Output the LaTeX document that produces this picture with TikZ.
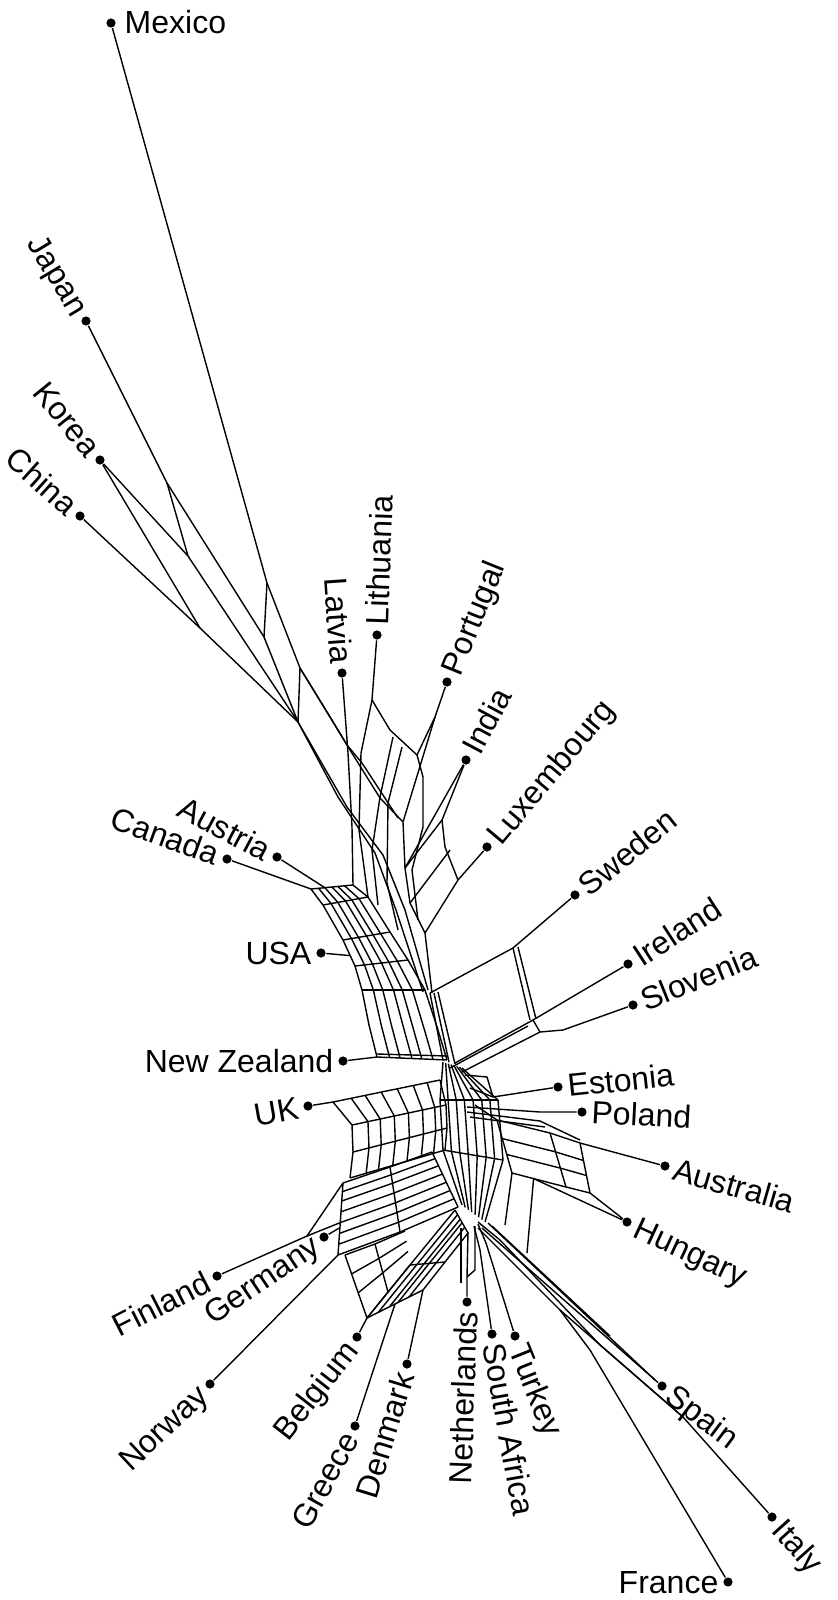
\documentclass[tikz,border=0pt]{standalone}
\usepackage{fontspec}
\setmainfont{Liberation Sans}
\usetikzlibrary{calc}
\newcommand\meshband[3]{%
  \foreach \qq in {#3}{\draw ($(#1L0)!\qq!(#1R0)$) \foreach \ww in {1,...,#2}{ -- ($(#1L\ww)!\qq!(#1R\ww)$)};}}
\newcommand\rungs[2]{\foreach \ww in {#2}{\draw (#1L\ww) -- (#1R\ww);}}
\begin{document}
\begin{tikzpicture}[x=0.5pt,y=-0.5pt,line width=0.7pt,line join=round,
  leaf/.style={circle,fill=black,inner sep=0pt,minimum size=4.6pt},
  lbl/.style={inner xsep=4.5pt,inner ysep=0pt,text height=11pt,text depth=0pt,font=\fontsize{16}{18}\selectfont}]
\useasboundingbox (0,0) rectangle (837,1600);

% ---------------- leaves
\node[leaf] (mex) at (111,23) {};
\node[leaf] (jap) at (86,321) {};
\node[leaf] (kor) at (100,460) {};
\node[leaf] (chi) at (80,516) {};
\node[leaf] (lat) at (342,673) {};
\node[leaf] (lit) at (377,635) {};
\node[leaf] (por) at (447,682) {};
\node[leaf] (ind) at (466,760) {};
\node[leaf] (lux) at (487,847) {};
\node[leaf] (swe) at (575,895) {};
\node[leaf] (ire) at (628,964) {};
\node[leaf] (slo) at (633,1005) {};
\node[leaf] (est) at (558,1087) {};
\node[leaf] (pol) at (582,1112) {};
\node[leaf] (aus) at (665,1166) {};
\node[leaf] (hun) at (627,1222) {};
\node[leaf] (spa) at (662,1386) {};
\node[leaf] (ita) at (772,1517) {};
\node[leaf] (fra) at (728,1582) {};
\node[leaf] (tur) at (515,1336) {};
\node[leaf] (saf) at (492,1334) {};
\node[leaf] (net) at (467,1302) {};
\node[leaf] (den) at (407,1364) {};
\node[leaf] (gre) at (355,1426) {};
\node[leaf] (bel) at (357,1337) {};
\node[leaf] (nor) at (210,1384) {};
\node[leaf] (fin) at (217,1276) {};
\node[leaf] (ger) at (324,1237) {};
\node[leaf] (uk)  at (308,1106) {};
\node[leaf] (nz)  at (343,1061) {};
\node[leaf] (usa) at (321,953) {};
\node[leaf] (can) at (227,859) {};
\node[leaf] (aut) at (277,857) {};

% ---------------- labels
\node[lbl,anchor=west,inner xsep=6.5pt] (mexL) at (mex) {Mexico};
\node[lbl,anchor=east,rotate=-59] (japL) at (jap) {Japan};
\node[lbl,anchor=east,rotate=-51] (korL) at (kor) {Korea};
\node[lbl,anchor=east,rotate=-42] (chiL) at (chi) {China};
\node[lbl,anchor=east,rotate=-86] (latL) at (lat) {Latvia};
\node[lbl,anchor=west,rotate=88] (litL) at (lit) {Lithuania};
\node[lbl,anchor=west,rotate=68] (porL) at (por) {Portugal};
\node[lbl,anchor=west,rotate=62] (indL) at (ind) {India};
\node[lbl,anchor=west,rotate=50] (luxL) at (lux) {Luxembourg};
\node[lbl,anchor=west,rotate=39] (sweL) at (swe) {Sweden};
\node[lbl,anchor=west,rotate=33] (ireL) at (ire) {Ireland};
\node[lbl,anchor=west,rotate=22] (sloL) at (slo) {Slovenia};
\node[lbl,anchor=west,rotate=6] (estL) at (est) {Estonia};
\node[lbl,anchor=west,rotate=-3] (polL) at (pol) {Poland};
\node[lbl,anchor=west,rotate=-16] (ausL) at (aus) {Australia};
\node[lbl,anchor=west,rotate=-25] (hunL) at (hun) {Hungary};
\node[lbl,anchor=west,rotate=-37] (spaL) at (spa) {Spain};
\node[lbl,anchor=west,rotate=-48] (itaL) at (ita) {Italy};
\node[lbl,anchor=east] (fraL) at (fra) {France};
\node[lbl,anchor=west,rotate=-68] (turL) at (tur) {Turkey};
\node[lbl,anchor=west,rotate=-80] (safL) at (saf) {South Africa};
\node[lbl,anchor=east,rotate=88] (netL) at (net) {Netherlands};
\node[lbl,anchor=east,rotate=73] (denL) at (den) {Denmark};
\node[lbl,anchor=east,rotate=61] (greL) at (gre) {Greece};
\node[lbl,anchor=east,rotate=52] (belL) at (bel) {Belgium};
\node[lbl,anchor=east,rotate=43] (norL) at (nor) {Norway};
\node[lbl,anchor=east,rotate=27] (finL) at (fin) {Finland};
\node[lbl,anchor=east,rotate=34] (gerL) at (ger) {Germany};
\node[lbl,anchor=east,rotate=10] (ukL) at (uk) {UK};
\node[lbl,anchor=east] (nzL) at (nz) {New Zealand};
\node[lbl,anchor=east] (usaL) at (usa) {USA};
\node[lbl,anchor=east,rotate=-20] (canL) at (can) {Canada};
\node[lbl,anchor=east,rotate=-28] (autL) at (aut) {Austria};

% ---------------- top fan
\coordinate (m1) at (267,583); \coordinate (m2) at (300,668); \coordinate (m3) at (332,720);
\coordinate (j1) at (167,483); \coordinate (j2) at (264,637); \coordinate (T) at (298,722);
\coordinate (k1) at (188,556); \coordinate (k2) at (200,628);
\draw (mex) -- (m1) -- (m2) -- (m3) -- (350,750) -- (380,798) -- (403,822);
\draw (m1) -- (j2); \draw (m2) -- (T);
\draw (jap) -- (j1) -- (j2) -- (T);
\draw (j1) -- (k1) -- (T);
\draw (kor) -- (k1); \draw (kor) -- (k2);
\draw (chi) -- (k2) -- (T);
\draw (m2) -- (347,745) -- (362,763) -- (398,818);

% ---------------- upper bundle
\draw (T) -- (347,807) -- (383,855) -- (405,910) -- (428,990);
\draw (T) -- (338,797) -- (375,853) -- (396,910) -- (423,992);
\draw (lat) -- (348,753) -- (352,827) -- (353,885);
\draw (lit) -- (372,700) -- (361,753) -- (359,830) -- (368,897);
\draw (372,700) -- (390,730) -- (417,755);
\draw (por) -- (435,717) -- (417,755) -- (423,777) -- (423,827);
\draw (435,717) -- (403,822) -- (405,868);
\draw (393,737) -- (380,797) -- (372,850) -- (378,905);
\draw (402,747) -- (388,803) -- (387,883) -- (398,930);
\draw (ind) -- (405,868);
\draw (ind) -- (442,820) -- (445,847) -- (458,880);
\draw (lux) -- (458,880) -- (425,933);
\draw (442,820) -- (405,868);
\draw (450,850) -- (410,903);
\draw (405,868) -- (410,903) -- (425,933) -- (432,993);
\draw (423,827) -- (412,870) -- (418,920);

% ---------------- band A (Canada, Austria, USA, NZ)
\coordinate (AL0) at (311,889); \coordinate (AL1) at (323,905); \coordinate (AL2) at (343,940);
\coordinate (AL3) at (355,966); \coordinate (AL4) at (362,990); \coordinate (AL5) at (369,1025);
\coordinate (AL6) at (377,1057);
\coordinate (AR0) at (353,885); \coordinate (AR1) at (368,897); \coordinate (AR2) at (390,932);
\coordinate (AR3) at (408,960); \coordinate (AR4) at (425,990); \coordinate (AR5) at (438,1030);
\coordinate (AR6) at (447,1060);
\meshband{A}{6}{0,0.18,0.33,0.5,0.64,0.8,1}
\rungs{A}{0,1,2,3,4,6}
\draw (can) -- (AL0);
\draw (aut) -- ($(AL0)!0.33!(AR0)$);
\draw (usa) -- ($(AL2)!0.6!(AL3)$);
\draw (nz) -- (AL6);
\draw ($(AL6)+(0,-3)$) -- ($(AR6)+(0,-4)$);

% ---------------- Sweden / Ireland / Slovenia
\draw (swe) -- (513,948) -- (430,993);
\draw (513,948) -- (530,1020); \draw (518,947) -- (536,1019);
\draw (ire) -- (533,1020) -- (455,1063);
\draw (528,1026) -- (450,1068);
\draw (slo) -- (563,1030) -- (540,1032) -- (462,1072);
\draw (533,1020) -- (540,1032);

% ---------------- core
\draw (430,993) -- (443,1060);
\draw (434,993) -- (449,1062);
\draw (438,992) -- (455,1064);
\coordinate (ZL0) at (443,1062); \coordinate (ZL1) at (440,1100);
\coordinate (ZL2) at (443,1150); \coordinate (ZL3) at (462,1205);
\coordinate (ZR0) at (462,1068); \coordinate (ZR1) at (498,1100);
\coordinate (ZR2) at (503,1160); \coordinate (ZR3) at (485,1222);
\meshband{Z}{3}{0,0.14,0.28,0.42,0.57,0.72,0.86,1}
\rungs{Z}{1,2}

% ---------------- Estonia / Poland
\draw (est) -- (493,1097) -- (470,1088);
\draw (493,1097) -- (487,1077) -- (465,1075);
\draw (pol) -- (540,1112) -- (467,1107);
\draw (467,1112) -- (540,1121) -- (580,1140);
\draw (470,1117) -- (545,1127);

% ---------------- band H (Australia / Hungary)
\coordinate (HL0) at (497,1120); \coordinate (HL1) at (550,1133); \coordinate (HL2) at (580,1143);
\coordinate (HR0) at (512,1173); \coordinate (HR1) at (566,1187); \coordinate (HR2) at (590,1193);
\meshband{H}{2}{0,0.35,0.65,1}
\rungs{H}{0,1,2}
\draw (aus) -- (HL2);
\draw (hun) -- (HR2);
\draw (hun) -- ($(HR0)!0.4!(HR1)$) -- (527,1253);
\draw (HL0) -- (475,1105);
\draw (HR0) -- (505,1225);

% ---------------- band B (UK)
\coordinate (BL0) at (333,1102); \coordinate (BL1) at (352,1125); \coordinate (BL2) at (353,1152);
\coordinate (BL3) at (350,1178);
\coordinate (BR0) at (440,1080); \coordinate (BR1) at (446,1105); \coordinate (BR2) at (447,1128);
\coordinate (BR3) at (445,1150);
\meshband{B}{3}{0,0.17,0.3,0.45,0.6,0.75,0.88,1}
\rungs{B}{0,1,2,3}
\draw (uk) -- (BL0);

% ---------------- band C (Finland, Germany, Norway)
\coordinate (CL0) at (343,1183); \coordinate (CL1) at (390,1167); \coordinate (CL2) at (432,1152);
\coordinate (CR0) at (338,1255); \coordinate (CR1) at (400,1232); \coordinate (CR2) at (458,1207);
\meshband{C}{2}{0,0.12,0.25,0.4,0.55,0.7,0.85,1}
\rungs{C}{0,1,2}
\coordinate (f1) at (307,1236);
\draw (fin) -- (f1) -- (CL0);
\draw (f1) -- ($(CL0)!0.55!(CR0)$);
\draw (ger) -- ($(CL0)!0.62!(CR0)$);
\draw (nor) -- (CR0);

% ---------------- band D (Belgium, Greece, Denmark)
\coordinate (DL0) at (367,1318); \coordinate (DL1) at (410,1265); \coordinate (DL2) at (455,1210);
\coordinate (DR0) at (423,1290); \coordinate (DR1) at (445,1262); \coordinate (DR2) at (468,1233);
\meshband{D}{2}{0,0.2,0.4,0.55,0.75,1}
\rungs{D}{0,1,2}
\draw (bel) -- (DL0);
\draw (gre) -- ($(DL0)!0.5!(DR0)$);
\draw (den) -- (DR0);

% ---------------- band E (between C and D)
\coordinate (EL0) at (345,1255); \coordinate (EL1) at (375,1244); \coordinate (EL2) at (405,1231);
\coordinate (ER0) at (367,1318); \coordinate (ER1) at (388,1292); \coordinate (ER2) at (410,1265);
\meshband{E}{2}{0,0.3,0.6,1}
\rungs{E}{0,1}

% ---------------- Netherlands, South Africa, Turkey
\draw (net) -- (467,1277) -- (468,1232);
\draw (467,1277) -- (475,1270) -- (475,1226);
\draw (461,1283) -- (461,1228);
\draw (saf) -- (480,1250) -- (474,1226);
\draw (tur) -- (486,1243) -- (478,1224);

% ---------------- Spain, Italy, France
\draw (spa) -- (482,1228);
\draw (655,1380) -- (488,1223);
\draw (ita) -- (683,1417) -- (600,1345) -- (500,1240) -- (478,1222);
\draw (fra) -- (590,1350) -- (560,1310) -- (478,1228);
\draw (683,1417) -- (560,1310);
\draw (492,1226) -- (610,1336);
\end{tikzpicture}
\end{document}
